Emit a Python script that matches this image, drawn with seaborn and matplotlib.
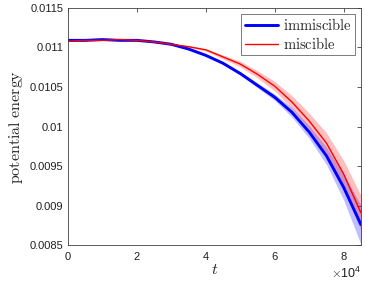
import numpy as np
import pandas as pd
import matplotlib
matplotlib.use("Agg")
import matplotlib.pyplot as plt
import seaborn as sns
from matplotlib.ticker import ScalarFormatter
from matplotlib.lines import Line2D

t = [0, 5000, 10000, 15000, 20000, 25000, 30000, 35000, 40000,
     45000, 50000, 55000, 60000, 65000, 70000, 75000, 80000, 85000]

immiscible = [0.01109, 0.01109, 0.01110, 0.01109, 0.01109, 0.01107, 0.01104,
              0.01098, 0.01090, 0.01080, 0.01067, 0.01052, 0.01037, 0.01018,
              0.00993, 0.00963, 0.00923, 0.00876]
miscible = [0.01108, 0.01109, 0.01109, 0.01110, 0.01109, 0.01107, 0.01104,
            0.01101, 0.01097, 0.01088, 0.01079, 0.01066, 0.01051, 0.01031,
            0.01007, 0.00979, 0.00940, 0.00891]

# half width of the shaded spread
immiscible_sd = [0.000003, 0.000003, 0.000003, 0.000003, 0.000004, 0.000005,
                 0.000006, 0.000008, 0.00001, 0.000015, 0.00002, 0.00003,
                 0.00004, 0.00006, 0.00008, 0.00011, 0.00016, 0.00025]
miscible_sd = [0.000003, 0.000003, 0.000003, 0.000003, 0.000004, 0.000006,
               0.000008, 0.00001, 0.000015, 0.000025, 0.000035, 0.000045,
               0.00006, 0.00008, 0.0001, 0.00013, 0.00017, 0.00022]

df = pd.DataFrame({"t": t * 2,
                   "energy": immiscible + miscible,
                   "case": ["immiscible"] * len(t) + ["miscible"] * len(t)})

sns.set_style("white")
plt.rcParams["mathtext.fontset"] = "cm"
plt.rcParams["font.family"] = ["Liberation Sans", "DejaVu Sans"]

fig = plt.figure(figsize=(3.66, 2.84), dpi=100)
ax = fig.add_axes([0.186, 0.137, 0.800, 0.835])

t_arr = np.array(t)
ax.fill_between(t_arr, np.array(immiscible) - immiscible_sd,
                np.array(immiscible) + immiscible_sd,
                color=(0, 0, 1), alpha=0.25, lw=0)
ax.fill_between(t_arr, np.array(miscible) - miscible_sd,
                np.array(miscible) + miscible_sd,
                color=(1, 0, 0), alpha=0.25, lw=0)

sns.lineplot(data=df, x="t", y="energy", hue="case",
             palette={"immiscible": (0, 0, 1), "miscible": (1, 0, 0)},
             size="case", sizes={"immiscible": 2.1, "miscible": 1.0},
             ax=ax, legend=False)

ax.set_xlim(0, 85000)
ax.set_ylim(0.0085, 0.0115)
ax.set_xticks([0, 20000, 40000, 60000, 80000])
ax.set_yticks([0.0085, 0.009, 0.0095, 0.01, 0.0105, 0.011, 0.0115])
ax.set_yticklabels(["0.0085", "0.009", "0.0095", "0.01", "0.0105", "0.011", "0.0115"])

fmt = ScalarFormatter(useMathText=True)
fmt.set_powerlimits((0, 0))
ax.xaxis.set_major_formatter(fmt)
ax.xaxis.get_offset_text().set_fontsize(9)

ax.tick_params(direction="in", length=3, width=0.6, colors="#404040",
               labelsize=8, top=True, right=True, labelcolor="#202020")
for s in ax.spines.values():
    s.set_color("#404040")
    s.set_linewidth(0.6)

ax.set_xlabel(r"$t$", fontsize=11.5, labelpad=0)
ax.set_ylabel(r"$\mathrm{potential\ energy}$", fontsize=11.5, labelpad=3)

handles = [Line2D([], [], color=(0, 0, 1), lw=2.1),
           Line2D([], [], color=(1, 0, 0), lw=1.0)]
leg = ax.legend(handles, [r"$\mathrm{immiscible}$", r"$\mathrm{miscible}$"],
                loc="upper right", fontsize=10.5, frameon=True, fancybox=False,
                handlelength=2.3, borderpad=0.25, labelspacing=0.15,
                handletextpad=0.3, borderaxespad=0.4)
leg.get_frame().set_edgecolor("#404040")
leg.get_frame().set_linewidth(0.6)

fig.savefig("out.png", dpi=100)
